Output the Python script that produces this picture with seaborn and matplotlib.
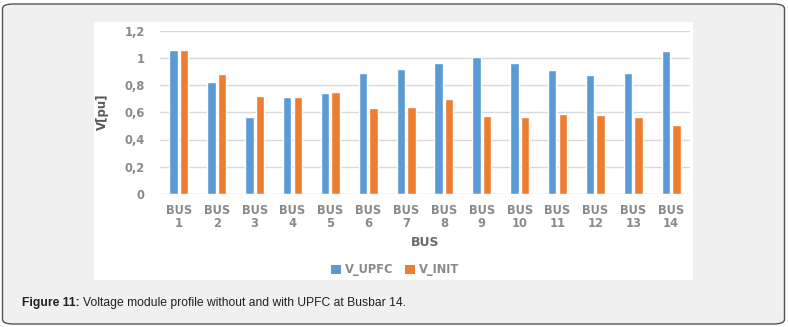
import matplotlib
matplotlib.use("Agg")
import matplotlib.pyplot as plt
import seaborn as sns
import pandas as pd
from matplotlib.patches import FancyBboxPatch, Rectangle

buses = [f"BUS\n{i}" for i in range(1, 15)]
v_upfc = [1.06, 0.825, 0.568, 0.71, 0.74, 0.889, 0.916, 0.958, 1.002, 0.962, 0.913, 0.877, 0.891, 1.046]
v_init = [1.06, 0.884, 0.718, 0.712, 0.745, 0.629, 0.637, 0.70, 0.576, 0.563, 0.585, 0.578, 0.563, 0.504]
series = ["V_UPFC", "V_INIT"]
colors = ["#5B9BD5", "#ED7D31"]
yticks = [0, 0.2, 0.4, 0.6, 0.8, 1.0, 1.2]
ytick_labels = ["0", "0,2", "0,4", "0,6", "0,8", "1", "1,2"]

df = pd.DataFrame({
    "BUS": buses * 2,
    "V": v_upfc + v_init,
    "series": [series[0]] * len(buses) + [series[1]] * len(buses),
})

sns.set_theme(style="white")
plt.rcParams["font.family"] = ["DejaVu Sans"]

W, H = 788, 327
fig = plt.figure(figsize=(W / 100, H / 100), dpi=100)
fig.patch.set_facecolor("white")

# outer rounded frame
frame = FancyBboxPatch((2.5 / W, 3 / H), 782 / W, 320 / H,
                       boxstyle="round,pad=0,rounding_size=0.014",
                       transform=fig.transFigure, facecolor="#f0f0f0",
                       edgecolor="#555555", linewidth=1.0, zorder=-2)
fig.patches.append(frame)
# white chart area
panel = Rectangle((94 / W, 1 - 280 / H), 599 / W, 258 / H,
                  transform=fig.transFigure, facecolor="white",
                  edgecolor="none", zorder=-1)
fig.patches.append(panel)

ax = fig.add_axes([160 / W, 1 - 194 / H, 530 / W, 163.5 / H])
ax.set_zorder(2)
ax.set_facecolor("none")
sns.barplot(data=df, x="BUS", y="V", hue="series", hue_order=series,
            palette=colors, width=0.56, gap=0.2, ax=ax, legend=False,
            saturation=1, zorder=3)

ax.set_ylim(0, 1.2)
ax.set_xlim(-0.5, len(buses) - 0.5)
ax.set_yticks(yticks)
ax.set_yticklabels(ytick_labels)
ax.yaxis.grid(True, color="#d9d9d9", linewidth=1.0, zorder=0)
ax.set_axisbelow(True)
for s in ax.spines.values():
    s.set_visible(False)
ax.tick_params(axis="both", length=0, colors="#808080", labelsize=8.3)
ax.tick_params(axis="y", pad=11)
ax.tick_params(axis="x", pad=7)
for t in ax.get_xticklabels() + ax.get_yticklabels():
    t.set_fontweight("bold")
    t.set_color("#8a8a8a")
for t in ax.get_xticklabels():
    t.set_linespacing(1.05)
ax.set_xlabel("BUS", fontsize=9, color="#6a6a6a", fontweight="bold", labelpad=4)
ax.set_ylabel("V[pu]", fontsize=8.5, color="#595959", fontweight="bold", labelpad=11)

handles = [Rectangle((0, 0), 1, 1, facecolor=c, edgecolor="none") for c in colors]
leg = fig.legend(handles, series, loc="center", bbox_to_anchor=(395 / W, 1 - 270 / H),
                 ncol=2, frameon=False, handlelength=0.9, handleheight=0.8,
                 handletextpad=0.3, columnspacing=1.0, labelcolor="#8a8a8a",
                 prop={"weight": "bold", "size": 8.3})
leg.set_zorder(3)

cap_fam = ["Liberation Sans", "DejaVu Sans"]
t1 = fig.text(22 / W, 1 - 303 / H, "Figure 11:", fontsize=8.7, fontweight="bold",
              family=cap_fam, color="#222222", va="center", ha="left")
fig.canvas.draw()
bb = t1.get_window_extent()
fig.text((bb.x1 + 3) / W, 1 - 303 / H,
         "Voltage module profile without and with UPFC at Busbar 14.",
         fontsize=8.7, family=cap_fam, color="#222222", va="center", ha="left")

fig.savefig("out.png", dpi=100, facecolor="white")
